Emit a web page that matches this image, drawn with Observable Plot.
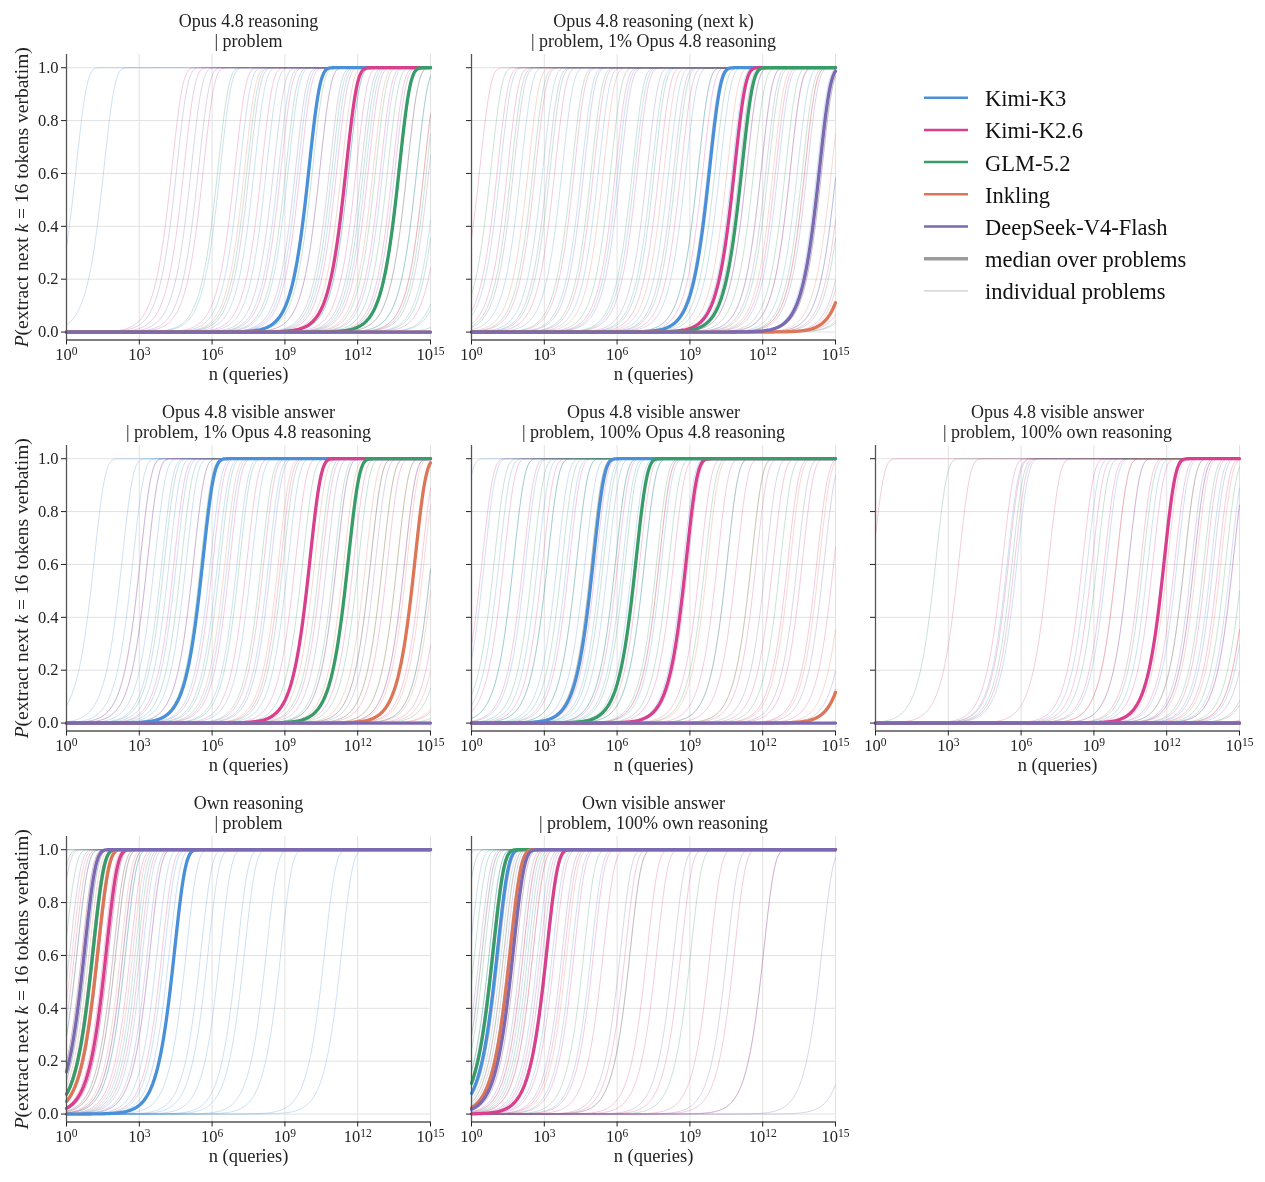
<!DOCTYPE html>
<html><head><meta charset="utf-8">
<script src="https://cdn.jsdelivr.net/npm/d3@7"></script>
<script src="https://cdn.jsdelivr.net/npm/@observablehq/plot@0.6"></script>
<style>
body{margin:0;background:#fff;}
#fig{position:relative;width:1265px;height:1182px;background:#fff;font-family:"Liberation Serif","Times New Roman",serif;overflow:hidden;}
#fig svg{position:absolute;overflow:visible;will-change:transform;}
</style></head><body><div id="fig"></div>
<script>
// ---------- data ----------
const models = ["Kimi-K3", "Kimi-K2.6", "GLM-5.2", "Inkling", "DeepSeek-V4-Flash"];
const colors = ["#4a90d9", "#d8408e", "#389c68", "#dd7657", "#7b69b1"];
const xTicks = [1, 1e3, 1e6, 1e9, 1e12, 1e15];
const yTicks = [0, 0.2, 0.4, 0.6, 0.8, 1.0];
const xLabel = "n (queries)";
const yLabel = "P(extract next k = 16 tokens verbatim)";

const titles = [
  "Opus 4.8 reasoning\n| problem",
  "Opus 4.8 reasoning (next k)\n| problem, 1% Opus 4.8 reasoning",
  "Opus 4.8 visible answer\n| problem, 1% Opus 4.8 reasoning",
  "Opus 4.8 visible answer\n| problem, 100% Opus 4.8 reasoning",
  "Opus 4.8 visible answer\n| problem, 100% own reasoning",
  "Own reasoning\n| problem",
  "Own visible answer\n| problem, 100% own reasoning"
];
// grid cell [row, col] of each panel
const cells = [[0,0],[0,1],[1,0],[1,1],[1,2],[2,0],[2,1]];

// median curves: log10(n) at which P = 0.5 (null = median success prob is 0), order = models
const medA = [9.85, 11.38, 13.57, null, null];
const medB = [9.67, 10.7, 11.0, 15.77, 14.2];
const medC = [5.48, 9.89, 11.47, 14.22, null];
const medD = [4.88, 8.71, 6.64, 15.75, null];
const medE = [null, 11.76, null, null, null];
const medF = [4.31, 1.5, 0.95, 1.15, 0.6];
const medG = [0.93, 2.96, 0.75, 1.45, 1.58];

// individual problems: log10(n) at which P = 0.5, per model [K3, K2.6, GLM, Inkling, DeepSeek]
const indA = [
  [0.25, 1.4, 6.2, 7.0, 7.6, 8.1, 8.6, 9.0, 9.4, 9.85, 10.3, 10.9, 11.5, 12.2, 12.9, 13.6, 14.3, 15.1, 15.9],
  [4.2, 4.7, 5.5, 6.8, 7.9, 8.7, 9.5, 10.3, 11.0, 11.38, 11.8, 12.3, 12.8, 13.3, 13.9, 14.6, 15.4],
  [6.1, 7.3, 8.9, 10.0, 10.8, 11.5, 12.1, 12.6, 13.1, 13.57, 13.9, 14.3, 14.7, 15.2, 15.8, 16.6],
  [7.2, 11.2, 12.5, 13.6, 14.6],
  [4.4, 5.0, 5.3, 7.4, 8.4, 9.3, 10.7, 12.0, 13.4, 14.8]
];
const indB = [
  [1.05, 1.9, 2.8, 3.6, 4.4, 5.1, 5.9, 6.6, 7.3, 8.0, 8.7, 9.2, 9.67, 10.1, 10.6, 11.2, 11.8, 12.5, 13.3, 14.1, 14.9, 15.8],
  [0.2, 0.93, 1.35, 2.5, 3.3, 4.1, 4.9, 5.8, 6.7, 7.6, 8.5, 9.4, 10.7, 11.2, 11.8, 12.4, 13.0, 13.6, 14.3, 15.1, 16.0],
  [0.66, 1.5, 2.4, 3.1, 4.0, 4.8, 5.6, 6.5, 7.4, 8.3, 9.2, 9.9, 11.0, 11.5, 12.1, 12.8, 13.5, 14.3, 15.2, 16.2],
  [2.2, 5.3, 7.8, 10.4, 12.3, 13.6, 14.7, 15.6],
  [1.6, 3.0, 4.5, 6.0, 7.1, 8.2, 9.6, 10.9, 12.0, 13.0, 13.7, 14.2, 14.9, 15.5, 16.3]
];
const indC = [
  [1.0, 2.15, 2.6, 2.9, 3.2, 3.5, 3.8, 4.1, 4.4, 4.8, 5.1, 5.48, 5.8, 6.1, 6.5, 6.9, 7.5, 8.2, 9.0, 9.9, 11.0],
  [2.9, 3.2, 4.3, 5.1, 5.9, 6.6, 7.3, 8.0, 8.7, 9.3, 9.89, 10.4, 11.0, 11.7, 12.4, 13.1, 13.8, 14.5, 15.3, 16.2],
  [3.9, 4.6, 5.4, 6.2, 7.0, 7.9, 8.8, 9.6, 10.3, 10.9, 11.47, 11.9, 12.4, 12.9, 13.5, 14.2, 14.9, 15.7, 16.6],
  [6.4, 8.6, 10.1, 11.3, 12.2, 12.9, 13.5, 13.9, 14.22, 14.6, 15.0, 15.5, 16.1, 16.9],
  [8.3, 10.6, 12.6, 13.8, 14.9]
];
const indD = [
  [-0.6, 0.4, 1.0, 1.6, 2.1, 2.6, 3.0, 3.4, 3.8, 4.2, 4.55, 4.88, 5.2, 5.5, 5.8, 6.1, 6.5, 7.0, 7.7, 8.6],
  [0.3, 1.2, 2.0, 2.8, 3.9, 5.0, 5.9, 6.8, 7.6, 8.2, 8.71, 9.3, 10.0, 10.8, 11.6, 12.3, 12.9, 13.5, 14.1, 14.8, 15.7],
  [0.8, 1.6, 2.4, 3.0, 3.6, 4.2, 4.8, 5.3, 5.8, 6.2, 6.64, 7.0, 7.5, 8.0, 8.7, 9.5, 10.4, 11.4, 12.6],
  [4.8, 7.6, 9.6, 11.4, 13.0, 14.2, 15.2],
  [8.8, 10.4, 12.0, 13.3, 14.4, 15.5]
];
const indE = [
  [5.3, 5.7, 8.6, 9.4, 10.3, 11.1, 12.3, 13.0, 13.7, 14.5, 15.3],
  [-0.25, 3.3, 5.1, 5.35, 5.6, 7.0, 8.4, 8.8, 9.3, 9.8, 10.3, 10.8, 11.3, 11.76, 12.2, 12.6, 13.0, 13.5, 14.0, 14.6, 15.2, 16.0, 16.8],
  [2.35, 5.5, 9.0, 10.9, 12.6, 13.4, 14.3, 15.0, 15.9],
  [9.8, 11.9, 13.1, 14.1, 15.2],
  [12.9, 13.8, 14.6, 15.5]
];
const indF = [
  [1.0, 1.8, 2.3, 2.7, 3.0, 3.3, 3.6, 3.9, 4.1, 4.31, 4.8, 5.4, 5.7, 6.2, 6.9, 7.2, 8.1, 8.7, 10.5, 11.2],
  [0.2, 0.6, 0.9, 1.2, 1.4, 1.6, 1.9, 2.2, 2.5, 2.9, 3.3, 3.8],
  [-1.5, -1.0, -0.6, -0.2, 0.3, 0.7, 1.0, 1.5, 1.9, 2.3, 2.8],
  [0.1, 0.5, 0.8, 1.0, 1.2, 1.5, 1.8, 2.1, 2.6],
  [-0.5, 0.0, 0.3, 0.5, 0.7, 0.9, 1.2, 1.6, 2.2, 3.2]
];
const indG = [
  [-0.8, -0.2, 0.3, 0.6, 0.8, 0.93, 1.1, 1.4, 1.7, 2.1, 2.6, 3.2, 4.0, 4.8],
  [0.9, 1.5, 2.0, 2.4, 2.7, 2.96, 3.3, 3.7, 4.1, 4.9, 5.3, 6.2, 6.4, 7.1, 7.5, 8.5, 9.7, 10.7, 11.9],
  [-1.2, -0.5, 0.0, 0.4, 0.6, 0.75, 0.9, 1.2, 1.6, 2.2, 3.0, 4.5, 6.4, 8.9],
  [0.3, 0.7, 1.0, 1.2, 1.45, 1.7, 2.0, 2.4, 3.0, 3.8],
  [0.2, 0.7, 1.0, 1.3, 1.58, 1.9, 2.3, 2.8, 3.6, 6.0, 8.2, 10.4, 11.9, 14.3, 15.77]
];
const medians = [medA, medB, medC, medD, medE, medF, medG];
const individuals = [indA, indB, indC, indD, indE, indF, indG];

// ---------- layout ----------
const FONT = '"Liberation Serif","Times New Roman",serif';
const colLeft = [66, 470.5, 875];
const rowTop = [54.1, 445.1, 836.1];
const W = 364, H = 285.5;
const fig = document.getElementById("fig");
const svgns = "http://www.w3.org/2000/svg";

// P(n) = 1 - (1-p)^n with p chosen so that P = 0.5 at n = 10^h
const logGrid = d3.range(0, 301).map(i => i * 0.05);
function curve(h) {
  return logGrid.map(l => ({n: Math.pow(10, l), P: h == null ? 0 : 1 - Math.pow(2, -Math.pow(10, l - h))}));
}

titles.forEach((title, pi) => {
  const [row, col] = cells[pi];
  const mL = col === 0 ? 66 : 30, mR = 30, mT = 60, mB = 50;
  const indRows = [];
  individuals[pi].forEach((arr, mi) => arr.forEach((h, k) => {
    curve(h).forEach(d => indRows.push({id: mi + "-" + k, model: models[mi], n: d.n, P: d.P}));
  }));
  const medRows = [];
  medians[pi].forEach((h, mi) => curve(h).forEach(d => medRows.push({model: models[mi], n: d.n, P: d.P})));

  const marks = [
    Plot.gridX(xTicks, {stroke: "#e2e2e2", strokeOpacity: 1, strokeWidth: 1}),
    Plot.gridY(yTicks, {stroke: "#e2e2e2", strokeOpacity: 1, strokeWidth: 1}),
    Plot.line(indRows, {x: "n", y: "P", z: "id", stroke: "model", strokeWidth: 1, strokeOpacity: 0.27}),
    Plot.line(medRows, {x: "n", y: "P", z: "model", stroke: "model", strokeWidth: 3.3}),
    Plot.ruleX([1], {stroke: "#555", strokeWidth: 1.3}),
    Plot.ruleY([-0.03], {stroke: "#555", strokeWidth: 1.3}),
    Plot.axisX(xTicks, {tickSize: 5, tickPadding: 3, label: null, fontSize: 16.5,
      tickFormat: d => "10^" + Math.round(Math.log10(d))}),
    Plot.axisY(yTicks, {tickSize: 5, tickPadding: 3, label: null, fontSize: 16.5,
      tickFormat: col === 0 ? (d => d.toFixed(1)) : (() => "")}),
    Plot.text([xLabel], {text: d => d, frameAnchor: "bottom", dy: 40, lineAnchor: "bottom", fontSize: 18.5, fill: "#222"}),
    Plot.text([title], {text: d => d, frameAnchor: "top", dy: -7.5, lineAnchor: "bottom", fontSize: 18, lineHeight: 1.1, fill: "#222"})
  ];
  if (col === 0) marks.push(Plot.text([yLabel], {text: d => d, frameAnchor: "left", dx: -38.5, rotate: -90,
    textAnchor: "middle", lineAnchor: "bottom", fontSize: 19.5, fill: "#222"}));

  const svg = Plot.plot({
    width: mL + W + mR, height: mT + H + mB,
    marginLeft: mL, marginRight: mR, marginTop: mT, marginBottom: mB,
    style: {background: "transparent", overflow: "visible", fontFamily: FONT, fontSize: "16.5px", color: "#222", maxWidth: "none"},
    x: {type: "log", domain: [1, 1e15]},
    y: {domain: [-0.03, 1.05]},
    color: {domain: models, range: colors},
    marks
  });
  svg.style.left = (colLeft[col] - mL) + "px";
  svg.style.top = (rowTop[row] - mT) + "px";
  // superscript exponents and italic math symbols
  svg.querySelectorAll("text").forEach(t => {
    const m = t.textContent.match(/^10\^(\d+)$/);
    if (m) {
      t.textContent = "10";
      const ts = document.createElementNS(svgns, "tspan");
      ts.setAttribute("dy", "-0.45em");
      ts.setAttribute("font-size", "0.7em");
      ts.textContent = m[1];
      t.appendChild(ts);
    } else if (t.textContent === yLabel) {
      t.textContent = "";
      const parts = [["P", true], ["(extract next ", false], ["k", true], [" = 16 tokens verbatim)", false]];
      parts.forEach(([s, it]) => {
        const ts = document.createElementNS(svgns, "tspan");
        if (it) ts.setAttribute("font-style", "italic");
        ts.textContent = s;
        t.appendChild(ts);
      });
    }
  });
  fig.appendChild(svg);
});

// ---------- legend ----------
const legendItems = models.map((m, i) => ({label: m, color: colors[i], w: 2.5}))
  .concat([{label: "median over problems", color: "#9b9b9b", w: 3.5}, {label: "individual problems", color: "#cccccc", w: 1.2}]);
const leg = d3.create("svg").attr("width", 1265).attr("height", 1182).style("left", "0px").style("top", "0px");
legendItems.forEach((it, i) => {
  const y = 97.7 + i * 32.2;
  leg.append("line").attr("x1", 924).attr("x2", 968).attr("y1", y).attr("y2", y)
    .attr("stroke", it.color).attr("stroke-width", it.w);
  leg.append("text").attr("x", 985).attr("y", y + 8.5).attr("font-family", FONT).attr("font-size", 22.5)
    .attr("fill", "#111").text(it.label);
});
fig.appendChild(leg.node());
</script></body></html>
